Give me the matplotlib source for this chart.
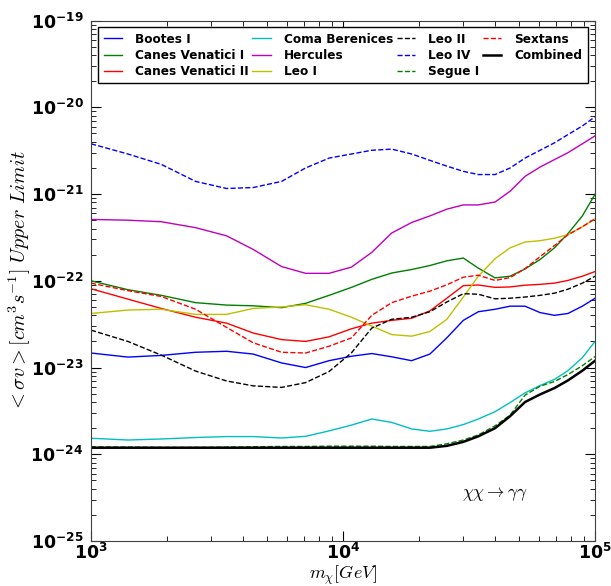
import matplotlib
matplotlib.use("Agg")
import matplotlib.pyplot as plt
from matplotlib.ticker import LogLocator, NullFormatter

# ---------------- data: upper limits on <sigma v> vs WIMP mass ----------------
mass = [1000, 1400, 1900, 2600, 3450, 4400, 5700, 7100, 8800, 10800, 13000,
        15600, 18700, 22100, 25800, 30000, 34400, 40100, 46000, 52700, 60500,
        69000, 78000, 89000, 100000]

bootes_1 = [1.47e-23, 1.32e-23, 1.38e-23, 1.5e-23, 1.54e-23, 1.43e-23, 1.13e-23,
            1.0e-23, 1.2e-23, 1.35e-23, 1.45e-23, 1.33e-23, 1.2e-23, 1.43e-23,
            2.2e-23, 3.5e-23, 4.4e-23, 4.7e-23, 5.1e-23, 5.1e-23, 4.3e-23,
            4.0e-23, 4.2e-23, 5.1e-23, 6.3e-23]
canes_ven_1 = [1.0e-22, 7.9e-23, 6.8e-23, 5.6e-23, 5.25e-23, 5.15e-23, 4.9e-23,
               5.5e-23, 6.8e-23, 8.4e-23, 1.04e-22, 1.23e-22, 1.35e-22, 1.5e-22,
               1.7e-22, 1.83e-22, 1.4e-22, 1.08e-22, 1.13e-22, 1.37e-22,
               1.76e-22, 2.4e-22, 3.5e-22, 5.6e-22, 1.0e-21]
canes_ven_2 = [8.1e-23, 6.15e-23, 4.8e-23, 3.8e-23, 3.25e-23, 2.5e-23, 2.1e-23,
               2.0e-23, 2.26e-23, 2.8e-23, 3.25e-23, 3.5e-23, 3.7e-23, 4.5e-23,
               6.3e-23, 8.8e-23, 8.95e-23, 8.4e-23, 8.5e-23, 8.9e-23, 9.1e-23,
               9.4e-23, 1.01e-22, 1.13e-22, 1.28e-22]
coma_ber = [1.53e-24, 1.46e-24, 1.5e-24, 1.56e-24, 1.6e-24, 1.6e-24, 1.54e-24,
            1.61e-24, 1.86e-24, 2.17e-24, 2.55e-24, 2.33e-24, 1.96e-24, 1.84e-24,
            1.96e-24, 2.2e-24, 2.55e-24, 3.1e-24, 3.95e-24, 5.1e-24, 6.2e-24,
            7.3e-24, 9.2e-24, 1.3e-23, 2.0e-23]
hercules = [5.1e-22, 5.0e-22, 4.8e-22, 4.1e-22, 3.3e-22, 2.3e-22, 1.46e-22,
            1.22e-22, 1.22e-22, 1.44e-22, 2.13e-22, 3.56e-22, 4.7e-22, 5.6e-22,
            6.7e-22, 7.5e-22, 7.5e-22, 8.1e-22, 1.08e-21, 1.6e-21, 2.05e-21,
            2.5e-21, 3.0e-21, 3.8e-21, 4.7e-21]
leo_1 = [4.2e-23, 4.6e-23, 4.7e-23, 4.1e-23, 4.1e-23, 4.8e-23, 5.0e-23, 5.3e-23,
         4.7e-23, 3.8e-23, 3.0e-23, 2.4e-23, 2.3e-23, 2.6e-23, 3.6e-23, 6.5e-23,
         1.13e-22, 1.8e-22, 2.4e-22, 2.8e-22, 2.9e-22, 3.1e-22, 3.4e-22,
         4.2e-22, 5.2e-22]
leo_2 = [2.7e-23, 2.0e-23, 1.39e-23, 9.1e-24, 7.0e-24, 6.15e-24, 5.9e-24, 6.7e-24,
         9.0e-24, 1.48e-23, 2.85e-23, 3.6e-23, 3.8e-23, 4.4e-23, 5.7e-23, 7.1e-23,
         7.0e-23, 6.2e-23, 6.3e-23, 6.5e-23, 6.8e-23, 7.2e-23, 8.0e-23, 9.4e-23,
         1.13e-22]
leo_4 = [3.8e-21, 2.9e-21, 2.2e-21, 1.4e-21, 1.16e-21, 1.19e-21, 1.4e-21, 2.0e-21,
         2.6e-21, 2.9e-21, 3.2e-21, 3.3e-21, 2.9e-21, 2.45e-21, 2.1e-21, 1.83e-21,
         1.68e-21, 1.68e-21, 2.0e-21, 2.6e-21, 3.2e-21, 3.9e-21, 4.85e-21,
         6.1e-21, 7.8e-21]
segue_1 = [1.22e-24, 1.21e-24, 1.2e-24, 1.2e-24, 1.21e-24, 1.22e-24, 1.23e-24,
           1.23e-24, 1.24e-24, 1.24e-24, 1.24e-24, 1.23e-24, 1.23e-24, 1.23e-24,
           1.32e-24, 1.46e-24, 1.67e-24, 2.13e-24, 2.83e-24, 4.8e-24, 6.1e-24,
           6.9e-24, 8.3e-24, 1.05e-23, 1.34e-23]
sextans = [9.4e-23, 7.7e-23, 6.6e-23, 4.7e-23, 2.9e-23, 1.93e-23, 1.5e-23,
           1.47e-23, 1.76e-23, 2.2e-23, 4.0e-23, 5.6e-23, 6.65e-23, 7.6e-23,
           9.0e-23, 1.1e-22, 1.16e-22, 1.01e-22, 1.09e-22, 1.38e-22, 1.9e-22,
           2.55e-22, 3.4e-22, 4.2e-22, 5.2e-22]
combined = [1.19e-24, 1.19e-24, 1.19e-24, 1.19e-24, 1.19e-24, 1.19e-24, 1.19e-24,
            1.19e-24, 1.19e-24, 1.19e-24, 1.19e-24, 1.19e-24, 1.19e-24, 1.19e-24,
            1.25e-24, 1.39e-24, 1.61e-24, 2.0e-24, 2.75e-24, 4.0e-24, 4.9e-24,
            5.8e-24, 7.1e-24, 9.2e-24, 1.2e-23]

y_ticks = [1e-25, 1e-24, 1e-23, 1e-22, 1e-21, 1e-20, 1e-19]
y_tick_labels = [r'$\mathbf{10^{-25}}$', r'$\mathbf{10^{-24}}$', r'$\mathbf{10^{-23}}$',
                 r'$\mathbf{10^{-22}}$', r'$\mathbf{10^{-21}}$', r'$\mathbf{10^{-20}}$',
                 r'$\mathbf{10^{-19}}$']
x_ticks = [1e3, 1e4, 1e5]
x_tick_labels = [r'$\mathbf{10^{3}}$', r'$\mathbf{10^{4}}$', r'$\mathbf{10^{5}}$']

# ---------------- plot ----------------
fig = plt.figure(figsize=(6.11, 5.86), dpi=100)
ax = fig.add_axes([0.149, 0.0768, 0.825, 0.888])

ax.plot(mass, bootes_1, color='b', lw=1, label='Bootes I')
ax.plot(mass, canes_ven_1, color='g', lw=1, label='Canes Venatici I')
ax.plot(mass, canes_ven_2, color='r', lw=1, label='Canes Venatici II')
ax.plot(mass, coma_ber, color='c', lw=1, label='Coma Berenices')
ax.plot(mass, hercules, color='m', lw=1, label='Hercules')
ax.plot(mass, leo_1, color='y', lw=1, label='Leo I')
ax.plot(mass, leo_2, color='k', ls='--', lw=1, label='Leo II')
ax.plot(mass, leo_4, color='b', ls='--', lw=1, label='Leo IV')
ax.plot(mass, segue_1, color='g', ls='--', lw=1, label='Segue I')
ax.plot(mass, sextans, color='r', ls='--', lw=1, label='Sextans')
ax.plot(mass, combined, color='k', lw=1.8, label='Combined')

ax.set_xscale('log')
ax.set_yscale('log')
ax.set_xlim(1e3, 1e5)
ax.set_ylim(1e-25, 1e-19)

ax.yaxis.set_minor_locator(LogLocator(base=10, subs=range(2, 10), numticks=20))
ax.xaxis.set_minor_locator(LogLocator(base=10, subs=range(2, 10), numticks=20))
ax.yaxis.set_minor_formatter(NullFormatter())
ax.xaxis.set_minor_formatter(NullFormatter())
ax.set_yticks(y_ticks)
ax.set_yticklabels(y_tick_labels, fontsize=12.5, math_fontfamily='dejavusans')
ax.set_xticks(x_ticks)
ax.set_xticklabels(x_tick_labels, fontsize=12.5, math_fontfamily='dejavusans')

ax.tick_params(which='both', direction='in', top=True, right=True)
ax.tick_params(which='major', length=7)
ax.tick_params(which='minor', length=3.5)
ax.tick_params(axis='y', which='major', pad=5.5)
ax.tick_params(axis='x', which='major', pad=1.5)
for s in ax.spines.values():
    s.set_color('0.25')

ax.set_xlabel(r'$m_\chi [GeV]$', fontsize=13, math_fontfamily='cm')
ax.xaxis.set_label_coords(0.5, -0.043)
ax.set_ylabel(r'$<\sigma v> [cm^3 s^{-1}]\ Upper\ Limit$', fontsize=14.5,
              math_fontfamily='cm')
ax.yaxis.set_label_coords(-0.115, 0.5)

ax.text(0.735, 0.085, r'$\chi\chi \rightarrow \gamma\gamma$', transform=ax.transAxes,
        fontsize=12.5, math_fontfamily='cm')

leg = ax.legend(loc='upper center', ncol=4, prop={'weight': 'bold', 'size': 8.7},
                fancybox=False, handlelength=1.5, handletextpad=1.1,
                columnspacing=0.3, labelspacing=0.25, borderaxespad=0.55,
                borderpad=0.45, framealpha=1)
leg.get_frame().set_edgecolor('k')

fig.savefig('out.png', dpi=100)
